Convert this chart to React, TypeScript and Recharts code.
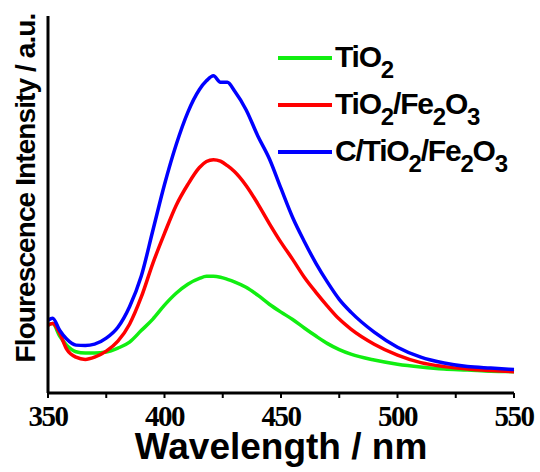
import React from "react"
import { LineChart, Line, XAxis, YAxis, Legend, Label } from "recharts"

const wavelengths = [350, 352, 355, 358, 362, 366, 370, 375, 380, 385, 390, 395, 400, 405, 410, 415, 418, 421, 424, 427, 430, 435, 440, 445, 450, 455, 460, 465, 470, 475, 480, 490, 500, 510, 520, 530, 540, 550]

const tio2 = [3.6, 3.69, 3.02, 2.54, 2.19, 2.12, 2.12, 2.17, 2.38, 2.7, 3.31, 3.92, 4.66, 5.29, 5.77, 6.08, 6.19, 6.19, 6.14, 6.03, 5.9, 5.61, 5.19, 4.71, 4.29, 3.9, 3.45, 3.02, 2.62, 2.3, 2.06, 1.75, 1.53, 1.38, 1.27, 1.22, 1.16, 1.13]

const tio2Fe2o3 = [3.6, 3.69, 3.17, 2.33, 1.9, 1.78, 1.9, 2.22, 2.75, 3.65, 5.08, 6.88, 8.47, 9.95, 11.06, 11.96, 12.28, 12.38, 12.3, 12.06, 11.75, 11.01, 10.05, 8.99, 7.99, 7.09, 6.14, 5.34, 4.6, 3.92, 3.39, 2.59, 2.01, 1.61, 1.4, 1.27, 1.19, 1.13]

const cTio2Fe2o3 = [3.86, 3.97, 3.33, 2.86, 2.54, 2.52, 2.59, 2.91, 3.49, 4.58, 6.19, 8.62, 11.06, 13.17, 14.89, 16.1, 16.56, 16.83, 16.49, 16.49, 16.03, 15.03, 13.65, 12.43, 10.85, 9.31, 8.04, 6.88, 5.87, 4.97, 4.29, 3.23, 2.43, 1.9, 1.59, 1.4, 1.32, 1.25]

const xTicks = [350, 375, 400, 425, 450, 475, 500, 525, 550]
const yTicks = Array.from({ length: 21 }, (_, i) => i)

const series = [
  { key: "tio2", color: "#11ee11", parts: [["TiO", "2"]] },
  { key: "tio2Fe2o3", color: "#ff0000", parts: [["TiO", "2"], ["/Fe", "2"], ["O", "3"]] },
  { key: "cTio2Fe2o3", color: "#0000ff", parts: [["C/TiO", "2"], ["/Fe", "2"], ["O", "3"]] },
]

const data = wavelengths.map((wl, i) => ({
  wl,
  tio2: tio2[i],
  tio2Fe2o3: tio2Fe2o3[i],
  cTio2Fe2o3: cTio2Fe2o3[i],
}))

const axisLine = { stroke: "#000", strokeWidth: 3 }
const tickLine = { stroke: "#000", strokeWidth: 2 }

function LegendBox() {
  return (
    <div style={{ position: "relative", width: 540, height: 200 }}>
      {series.map((s, i) => {
        const cy = 58 + i * 47
        return (
          <React.Fragment key={s.key}>
            <div style={{ position: "absolute", left: 278, top: cy - 2, width: 54, height: 4, background: s.color }} />
            <div
              style={{
                position: "absolute",
                left: 335,
                top: cy + 9 - 25,
                fontFamily: "'Liberation Sans', Arial, sans-serif",
                fontWeight: "bold",
                fontSize: 30,
                lineHeight: "30px",
                letterSpacing: -1.2,
                whiteSpace: "nowrap",
                color: "#000",
              }}
            >
              {s.parts.map(([main, sub], j) => (
                <React.Fragment key={j}>
                  {main}
                  <span style={{ fontSize: 24, position: "relative", top: 11 }}>{sub}</span>
                </React.Fragment>
              ))}
            </div>
          </React.Fragment>
        )
      })}
    </div>
  )
}

export default function App() {
  return (
    <div style={{ position: "absolute", left: 0, top: 0, background: "#fff" }}>
      <LineChart width={540} height={472} data={data} margin={{ top: 16, right: 26, bottom: 0, left: 0 }}>
        <XAxis
          dataKey="wl"
          type="number"
          domain={[350, 550]}
          ticks={xTicks}
          height={79}
          axisLine={axisLine}
          tickLine={tickLine}
          tickSize={5}
          tickMargin={7}
          tickFormatter={(v) => (v % 50 === 0 ? String(v) : "")}
          tick={{ fontFamily: "'Liberation Serif', 'Times New Roman', serif", fontWeight: "bold", fontSize: 29, fill: "#000", letterSpacing: -1.5 }}
        >
          <Label
            content={() => (
              <text x={281} y={459} textAnchor="middle" fontFamily="'Liberation Sans', Arial, sans-serif" fontWeight="bold" fontSize={37} fill="#000">
                Wavelength / nm
              </text>
            )}
          />
        </XAxis>
        <XAxis xAxisId="top" orientation="top" dataKey="wl" type="number" domain={[350, 550]} ticks={xTicks} height={0} tick={false} tickLine={tickLine} tickSize={-5} axisLine={axisLine} />
        <YAxis domain={[0, 20]} ticks={yTicks} width={48} tick={false} tickLine={tickLine} tickSize={-5} axisLine={axisLine}>
          <Label
            content={() => (
              <text
                x={35}
                y={188}
                transform="rotate(-90 35 188)"
                textAnchor="middle"
                fontFamily="'Liberation Sans', Arial, sans-serif"
                fontWeight="bold"
                fontSize={28}
                letterSpacing={-0.9}
                fill="#000"
              >
                Flourescence Intensity / a.u.
              </text>
            )}
          />
        </YAxis>
        <YAxis yAxisId="right" orientation="right" domain={[0, 20]} ticks={yTicks} width={0} tick={false} tickLine={tickLine} tickSize={3} axisLine={axisLine} />
        <Legend
          layout="vertical"
          align="center"
          verticalAlign="middle"
          content={() => <LegendBox />}
          wrapperStyle={{ left: 0, top: 0, width: 540, height: 200 }}
        />
        {series.map((s) => (
          <Line key={s.key} type="monotone" dataKey={s.key} stroke={s.color} strokeWidth={3.5} dot={false} isAnimationActive={false} />
        ))}
      </LineChart>
    </div>
  )
}
